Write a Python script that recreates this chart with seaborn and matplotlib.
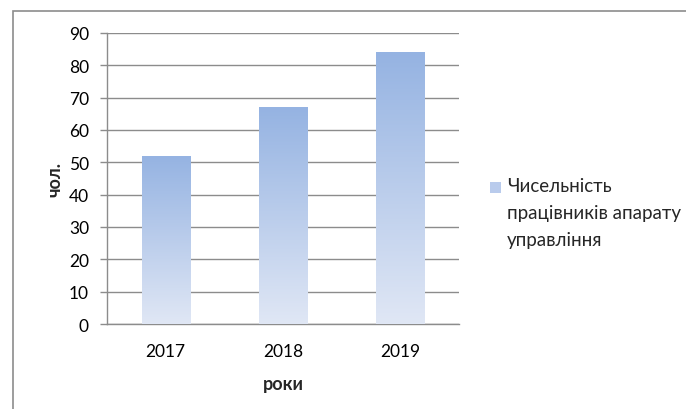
import numpy as np
import pandas as pd
import matplotlib
matplotlib.use("Agg")
import matplotlib.pyplot as plt
import seaborn as sns
from matplotlib.colors import LinearSegmentedColormap
from matplotlib.patches import Rectangle

years = ["2017", "2018", "2019"]
values = [52, 67, 84]
series_name = "Чисельність\nпрацівників апарату\nуправління"
y_ticks = [0, 10, 20, 30, 40, 50, 60, 70, 80, 90]

sns.set_theme(style="white")
plt.rcParams['font.family'] = ['Lato', 'DejaVu Sans']

W, H = 686, 410
fig = plt.figure(figsize=(W / 100, H / 100), dpi=100)
ax = fig.add_axes([107 / W, 1 - 325 / H, (459 - 107) / W, (325 - 34) / H])

df = pd.DataFrame({"year": years, "value": values})
sns.barplot(data=df, x="year", y="value", ax=ax, width=0.41, color="#A6BDE6",
            linewidth=0, zorder=3)

cmap = LinearSegmentedColormap.from_list("g", ["#E0E7F5", "#95B3E2"])
grad = np.linspace(0, 1, 256).reshape(-1, 1)
for p in ax.patches:
    x0, y0 = p.get_x(), p.get_y()
    w, h = p.get_width(), p.get_height()
    im = ax.imshow(grad, cmap=cmap, aspect="auto", origin="lower",
                   extent=[x0, x0 + w, y0, y0 + h], zorder=3)
    im.set_clip_path(p)
    p.set_alpha(0)

ax.set_xlim(-0.5, 2.5)
ax.set_ylim(0, 90)
ax.set_yticks(y_ticks)
ax.yaxis.grid(True, color="#8C8C8C", linewidth=1)
ax.set_axisbelow(True)
for s in ["top", "right"]:
    ax.spines[s].set_visible(False)
for s in ["left", "bottom"]:
    ax.spines[s].set_color("#8C8C8C")
    ax.spines[s].set_linewidth(1)

ax.set_xticks([0, 1, 2])
ax.set_xticklabels(years)
ax.tick_params(axis="x", length=0, pad=14, labelsize=12.5, colors="black")
ax.set_xticks([-0.5, 0.5, 1.5, 2.5], minor=True)
ax.tick_params(axis="x", which="minor", length=6, color="#8C8C8C", width=1, direction="out")
ax.tick_params(axis="y", length=5, color="#8C8C8C", width=1, direction="out", pad=8,
               labelsize=12.5, colors="black", left=True)

ax.set_xlabel("роки", fontweight="bold", fontsize=13, labelpad=11)
ax.set_ylabel("чол.", fontweight="bold", fontsize=13, labelpad=4)

# legend
fig.patches.append(Rectangle((490 / W, 1 - 194 / H), 11 / W, 11 / H, transform=fig.transFigure,
                             facecolor="#B9CBEC", edgecolor="none"))
fig.text(507 / W, 1 - 178 / H, series_name, ha="left", va="top", fontsize=13.5,
         linespacing=1.7)

fig.patches.append(Rectangle((12.5 / W, -0.1), 1.2, 1.1 - 12 / H, transform=fig.transFigure,
                             facecolor="none", edgecolor="#8C8C8C", linewidth=1.2))

fig.savefig("out.png", dpi=100, facecolor="white")
